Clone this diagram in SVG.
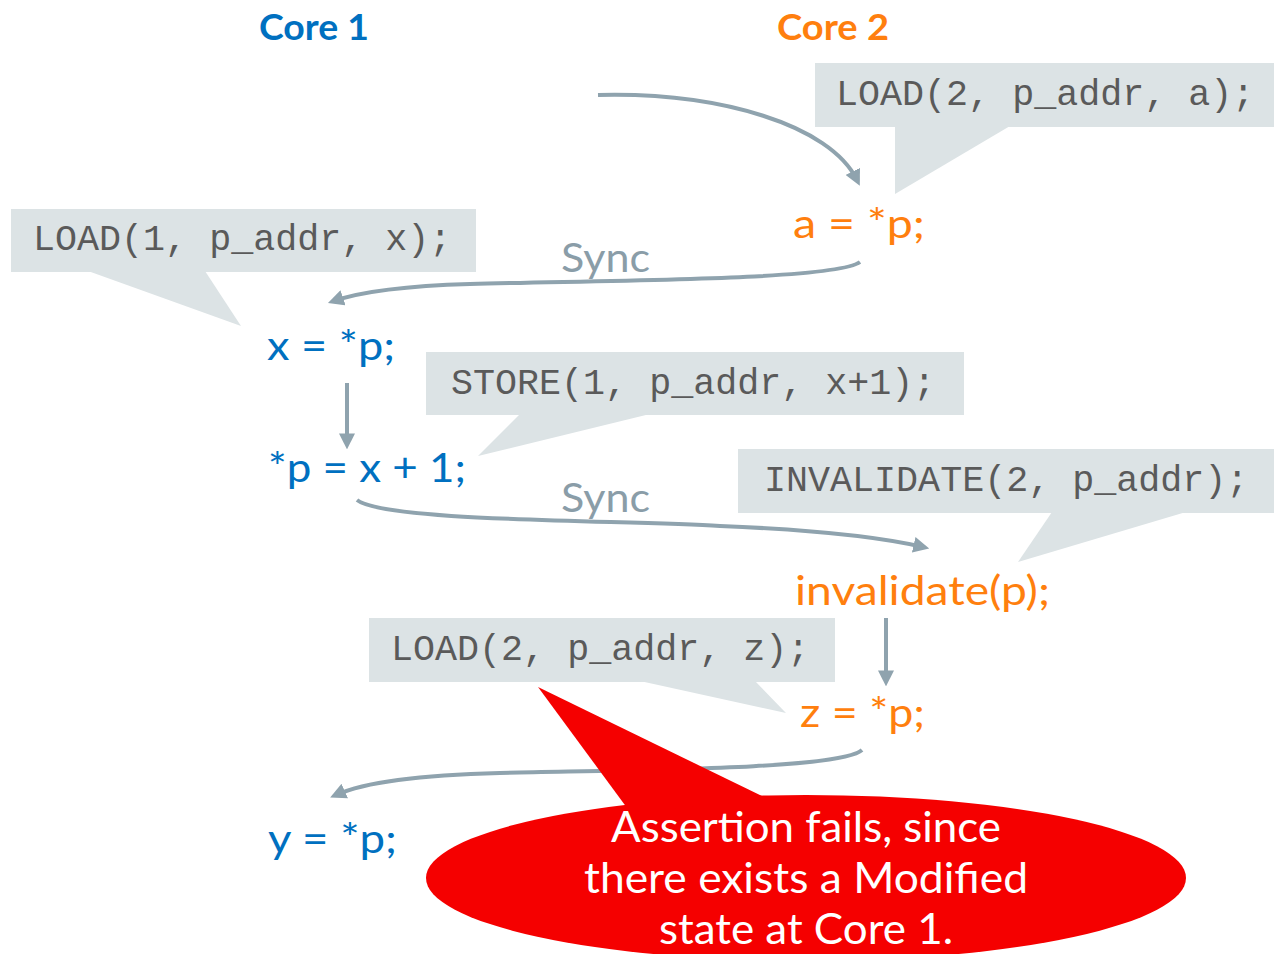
<svg xmlns="http://www.w3.org/2000/svg" width="1274" height="954" viewBox="0 0 1274 954">
<style>
.hdr{font-family:Lato,"Open Sans",sans-serif;font-weight:bold;font-size:36px}
.code{font-family:"Liberation Mono","Courier New",monospace;font-size:36.7px;fill:#5a5a5a}
.box{fill:#DCE3E5}
.st{font-family:Lato,"Open Sans",sans-serif;font-size:40px}
.c1{fill:#0070C0}
.c2{fill:#FF7F0E}
.sync{font-family:Lato,"Open Sans",sans-serif;font-size:40px;fill:#8A9DA8}
.conn{fill:none;stroke:#8FA3AE;stroke-width:4;marker-end:url(#ah)}
.call{font-family:Lato,"Open Sans",sans-serif;font-size:42px;fill:#fff;text-anchor:middle}
</style>
<defs>
<marker id="ah" viewBox="0 0 10 10" refX="6" refY="5" markerWidth="4" markerHeight="4" orient="auto">
<path d="M0,0 L10,5 L0,10 Z" fill="#8FA3AE"/>
</marker>
</defs>
<rect width="1274" height="954" fill="#fff"/>
<g id="headers">
<text class="hdr c1" x="259" y="40" textLength="110" lengthAdjust="spacingAndGlyphs">Core 1</text>
<text class="hdr c2" x="777" y="40" textLength="112" lengthAdjust="spacingAndGlyphs">Core 2</text>
</g>
<g id="note-load2a">
<rect class="box" x="815" y="63" width="459" height="64"/>
<polygon class="box" points="895,126 1010,126 895,194"/>
<text class="code" x="836" y="105">LOAD(2, p_addr, a);</text>
</g>
<g id="note-load1x">
<rect class="box" x="11" y="209" width="465" height="63"/>
<polygon class="box" points="88,271 205,271 241,326"/>
<text class="code" x="33" y="250">LOAD(1, p_addr, x);</text>
</g>
<g id="note-store">
<rect class="box" x="426" y="352" width="538" height="63"/>
<polygon class="box" points="520,414 650,414 478,456"/>
<text class="code" x="451" y="394">STORE(1, p_addr, x+1);</text>
</g>
<g id="note-invalidate">
<rect class="box" x="738" y="449" width="536" height="64"/>
<polygon class="box" points="1052,512 1186,512 1018,562"/>
<text class="code" x="764" y="491">INVALIDATE(2, p_addr);</text>
</g>
<g id="note-load2z">
<rect class="box" x="369" y="618" width="466" height="64"/>
<polygon class="box" points="640,681 755,681 786,713"/>
<text class="code" x="391" y="660">LOAD(2, p_addr, z);</text>
</g>
<g id="connectors">
<path class="conn" d="M598,95 C720,92 830,125 857,180"/>
<path class="conn" d="M860,262 C835,280 620,280 470,284 C400,286 360,292 334,301"/>
<path class="conn" d="M347,383 L347,443"/>
<path class="conn" d="M357,500 C385,522 620,520 720,526 C820,530 880,537 923,547"/>
<path class="conn" d="M886,618 L886,680"/>
<path class="conn" d="M862,750 C840,770 620,770 500,773 C420,775 365,782 336,795"/>
<text class="sync" x="561" y="272" textLength="89" lengthAdjust="spacingAndGlyphs">Sync</text>
<text class="sync" x="561" y="512" textLength="89" lengthAdjust="spacingAndGlyphs">Sync</text>
</g>
<g id="stmt-a"><text class="st c2" x="793" y="238" textLength="132" lengthAdjust="spacingAndGlyphs">a = *p;</text></g>
<g id="stmt-x"><text class="st c1" x="267" y="360" textLength="128" lengthAdjust="spacingAndGlyphs">x = *p;</text></g>
<g id="stmt-store"><text class="st c1" x="268" y="482" textLength="198" lengthAdjust="spacingAndGlyphs">*p = x + 1;</text></g>
<g id="stmt-inv"><text class="st c2" x="795" y="605" textLength="255" lengthAdjust="spacingAndGlyphs">invalidate(p);</text></g>
<g id="stmt-z"><text class="st c2" x="800" y="727" textLength="125" lengthAdjust="spacingAndGlyphs">z = *p;</text></g>
<g id="stmt-y"><text class="st c1" x="268" y="853" textLength="129" lengthAdjust="spacingAndGlyphs">y = *p;</text></g>
<g id="callout">
<ellipse cx="806" cy="878" rx="380" ry="83" fill="#F50000"/>
<polygon points="538,687 630,812 770,800" fill="#F50000"/>
<text class="call" x="806" y="842" textLength="390" lengthAdjust="spacingAndGlyphs">Assertion fails, since</text>
<text class="call" x="806" y="893" textLength="444" lengthAdjust="spacingAndGlyphs">there exists a Modified</text>
<text class="call" x="806" y="944" textLength="294" lengthAdjust="spacingAndGlyphs">state at Core 1.</text>
</g>
</svg>
